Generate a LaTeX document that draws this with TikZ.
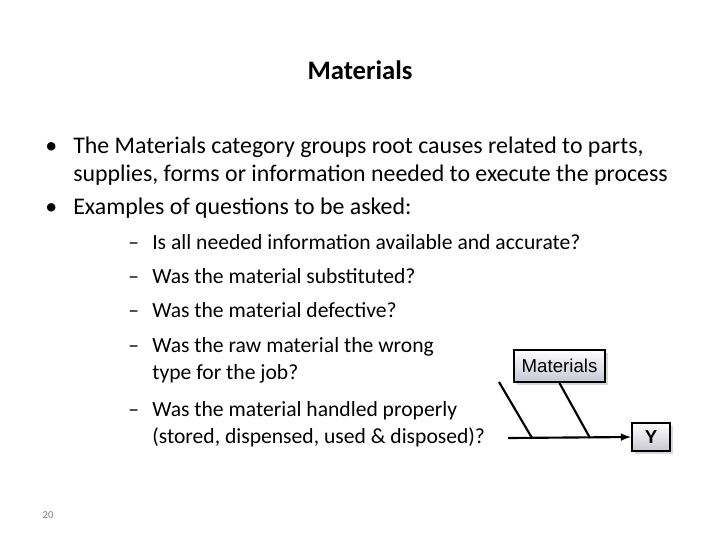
\documentclass[tikz,border=0pt]{standalone}
\usepackage{fontspec}
\setmainfont{Carlito}
\newfontfamily\arialf{Liberation Sans}
\usetikzlibrary{shadows}
\begin{document}
\begin{tikzpicture}[x=0.75pt,y=-0.75pt,
  txt/.style={anchor=west,inner sep=0pt,text height=0.72em,text depth=0.22em,font=\fontsize{17.9}{22}\selectfont},
  sub/.style={txt,font=\fontsize{16.2}{20}\selectfont},
  fbox/.style={draw,line width=1.6pt,inner sep=0pt,top color=white,bottom color=blue!10!gray!40,drop shadow={shadow xshift=2pt,shadow yshift=-2pt,fill=gray!60},font=\arialf\fontsize{14}{16}\selectfont},
  bone/.style={line width=1.6pt}]
\useasboundingbox (0,0) rectangle (720,540);
\node[font=\bfseries\fontsize{20}{24}\selectfont] (title) at (360,70) {Materials};
\node[txt] (b1) at (45,150) {•};
\node[txt] (l1) at (73,150) {The Materials category groups root causes related to parts,};
\node[txt] (l2) at (73,178) {supplies, forms or information needed to execute the process};
\node[txt] (b2) at (45,211) {•};
\node[txt] (l3) at (73,211) {Examples of questions to be asked:};
\node[sub] (d1) at (128,246) {–};
\node[sub] (s1) at (152,246) {Is all needed information available and accurate?};
\node[sub] (d2) at (128,280) {–};
\node[sub] (s2) at (152,280) {Was the material substituted?};
\node[sub] (d3) at (128,314) {–};
\node[sub] (s3) at (152,314) {Was the material defective?};
\node[sub] (d4) at (128,349) {–};
\node[sub] (s4) at (152,349) {Was the raw material the wrong};
\node[sub] (s4b) at (152,376) {type for the job?};
\node[sub] (d5) at (128,413) {–};
\node[sub] (s5) at (152,413) {Was the material handled properly};
\node[sub] (s5b) at (152,440) {(stored, dispensed, used \& disposed)?};
\node[font=\fontsize{8}{10}\selectfont,text=gray] (pg) at (48,515) {20};
\node[fbox,minimum width=91*0.75pt,minimum height=32*0.75pt] (mat) at (559.5,366) {Materials};
\node[fbox,minimum width=38*0.75pt,minimum height=28*0.75pt,font=\arialf\bfseries\fontsize{14}{16}\selectfont] (y) at (651,437) {Y};
\coordinate (st) at (508,438);
\coordinate (t1) at (499,382);
\coordinate (j1) at (532,438);
\coordinate (j2) at (590,438);
\draw[bone,-latex] (st) -- (y.west);
\draw[bone] (t1) -- (j1);
\draw[bone] (mat.south) -- (j2);
\end{tikzpicture}
\end{document}
